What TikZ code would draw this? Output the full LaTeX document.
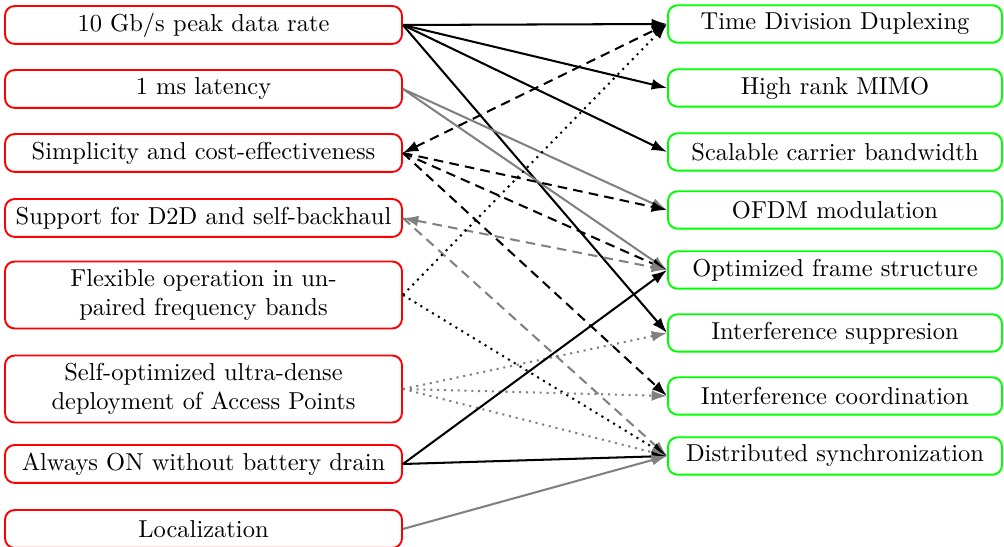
\documentclass[tikz,border=0pt]{standalone}
\usetikzlibrary{arrows.meta}
\begin{document}
\begin{tikzpicture}[x=0.4167pt,y=-0.4167pt,
  lbox/.style={draw=red,line width=0.8pt,rounded corners=4pt,minimum width=165.4pt,align=center,inner sep=2pt,font=\fontsize{10.2pt}{12.2pt}\selectfont},
  rbox/.style={draw=green,line width=0.8pt,rounded corners=4pt,minimum width=139.2pt,minimum height=15.6pt,align=center,inner sep=2pt,font=\fontsize{10.2pt}{12.2pt}\selectfont},
  one/.style={minimum height=15.8pt},
  two/.style={minimum height=27.9pt},
  edge/.style={line width=0.85pt,-{Latex[length=6.4pt,width=4.5pt]}},
  bedge/.style={line width=0.85pt,{Latex[length=6.4pt,width=4.5pt]}-{Latex[length=6.4pt,width=4.5pt]}},
  ddash/.style={dash pattern=on 4pt off 2.6pt},
  gr/.style={draw=gray,color=gray}]
\useasboundingbox (0,0) rectangle (1004,547);
\node[lbox,one] (l1) at (203.5,25) {10 Gb/s peak data rate};
\node[lbox,one] (l2) at (203.5,89) {1 ms latency};
\node[lbox,one] (l3) at (203.5,153) {Simplicity and cost-effectiveness};
\node[lbox,one] (l4) at (203.5,218) {Support for D2D and self-backhaul};
\node[lbox,two] (l5) at (203.5,295) {Flexible operation in un-\\paired frequency bands};
\node[lbox,two] (l6) at (203.5,389) {Self-optimized ultra-dense\\deployment of Access Points};
\node[lbox,one] (l7) at (203.5,464) {Always ON without battery drain};
\node[lbox,one] (l8) at (203.5,529) {Localization};
\node[rbox] (r1) at (835,24) {Time Division Duplexing};
\node[rbox] (r2) at (835,88) {High rank MIMO};
\node[rbox] (r3) at (835,152) {Scalable carrier bandwidth};
\node[rbox] (r4) at (835,210) {OFDM modulation};
\node[rbox] (r5) at (835,270) {Optimized frame structure};
\node[rbox] (r6) at (835,333) {Interference suppresion};
\node[rbox] (r7) at (835,396) {Interference coordination};
\node[rbox] (r8) at (835,456) {Distributed synchronization};
% L1 black solid
\draw[edge] (l1.east) -- (r1.west);
\draw[edge] (l1.east) -- (r2.west);
\draw[edge] (l1.east) -- (r3.west);
\draw[edge] (l1.east) -- (r6.west);
% L2 gray solid
\draw[edge,gr] (l2.east) -- (r4.west);
\draw[edge,gr] (l2.east) -- (r5.west);
% L3 black dashed
\draw[bedge,ddash] (l3.east) -- (r1.west);
\draw[edge,ddash] (l3.east) -- (r4.west);
\draw[edge,ddash] (l3.east) -- (r5.west);
\draw[edge,ddash] (l3.east) -- (r7.west);
% L4 gray dashed
\draw[bedge,gr,ddash] (l4.east) -- (r5.west);
\draw[edge,gr,ddash] (l4.east) -- (r8.west);
% L5 black dotted
\draw[edge,dotted] (l5.east) -- (r1.west);
\draw[edge,dotted] (l5.east) -- (r8.west);
% L6 gray dotted
\draw[edge,gr,dotted] (l6.east) -- (r6.west);
\draw[edge,gr,dotted] (l6.east) -- (r7.west);
\draw[edge,gr,dotted] (l6.east) -- (r8.west);
% L7 black solid
\draw[edge] (l7.east) -- (r5.west);
\draw[edge] (l7.east) -- (r8.west);
% L8 gray solid
\draw[edge,gr] (l8.east) -- (r8.west);
\end{tikzpicture}
\end{document}
